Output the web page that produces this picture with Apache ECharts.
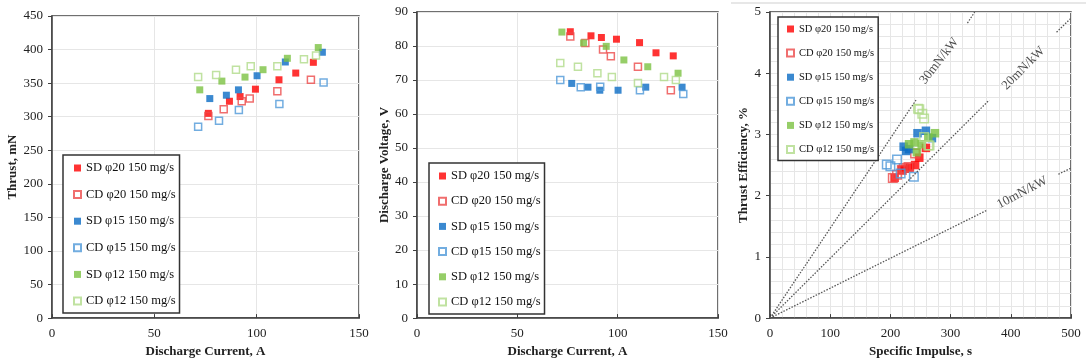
<!DOCTYPE html>
<html>
<head>
<meta charset="utf-8">
<script src="https://cdn.jsdelivr.net/npm/echarts@6/dist/echarts.min.js"></script>
<style>
html, body { margin: 0; padding: 0; background: #fff; }
#chart { width: 1086px; height: 363px; }
</style>
</head>
<body>
<div id="chart"></div>
<script>
// legend names, in legend order
var seriesNames = ['SD φ20 150 mg/s', 'CD φ20 150 mg/s', 'SD φ15 150 mg/s',
	'CD φ15 150 mg/s', 'SD φ12 150 mg/s', 'CD φ12 150 mg/s'];

// discharge current, A
var currentSD20 = [76.4, 86.7, 91.9, 99.4, 110.9, 119.1, 127.7];
var currentCD20 = [76.4, 83.9, 92.7, 96.6, 110.1, 126.5];
var currentSD15 = [77.1, 85.2, 91.1, 100.2, 114.0, 132.1];
var currentCD15 = [71.4, 81.6, 91.3, 111.1, 132.7];
var currentSD12 = [72.2, 83.0, 94.3, 103.1, 115.0, 130.1];
var currentCD12 = [71.4, 80.2, 89.9, 97.1, 110.1, 123.1, 129.0];

// thrust, mN
var thrustSD20 = [305, 323, 330, 341, 355, 365, 381];
var thrustCD20 = [301, 311, 323, 327, 338, 355];
var thrustSD15 = [327, 332, 340, 361, 381.5, 396];
var thrustCD15 = [285, 294, 310, 319, 351];
var thrustSD12 = [340, 353, 359, 370, 387, 403];
var thrustCD12 = [359, 362, 370, 375, 375, 385.5, 391];

// discharge voltage, V
var voltageSD20 = [84.2, 83.0, 82.5, 82.0, 81.0, 78.0, 77.1];
var voltageCD20 = [82.8, 80.9, 79.0, 77.0, 73.9, 67.0];
var voltageSD15 = [69.0, 67.9, 67.0, 67.0, 67.9, 67.9];
var voltageCD15 = [70.0, 67.9, 68.0, 67.0, 65.9];
var voltageSD12 = [84.1, 80.9, 79.9, 75.9, 73.9, 72.0];
var voltageCD12 = [75.0, 73.9, 72.0, 70.9, 69.1, 70.9, 70.0];

// specific impulse, s
var ispSD20 = [207, 219, 224, 232, 241, 248, 259];
var ispCD20 = [204, 211, 219, 222, 230, 241];
var ispSD15 = [222, 226, 231, 245, 259, 269];
var ispCD15 = [194, 200, 211, 217, 239];
var ispSD12 = [231, 240, 244, 252, 263, 274];
var ispCD12 = [246, 248, 253, 256, 256, 263, 265];

// thrust efficiency, %
var effSD20 = [2.29, 2.42, 2.44, 2.46, 2.50, 2.62, 2.78];
var effCD20 = [2.29, 2.34, 2.42, 2.45, 2.47, 2.69];
var effSD15 = [2.80, 2.73, 2.76, 3.02, 3.06, 2.94];
var effCD15 = [2.51, 2.48, 2.59, 2.36, 2.31];
var effSD12 = [2.84, 2.87, 2.71, 2.84, 2.95, 3.02];
var effCD12 = [3.42, 3.41, 3.34, 3.26, 2.96, 2.82, 2.82];

// thrust-to-power reference lines (isp, eff), drawn in two pieces around the label
var line30a = [[0, 0], [242.5, 3.56]];
var line30b = [[328, 4.82], [340, 5.0]];
var line20a = [[0, 0], [364, 3.56]];
var line20b = [[476, 4.67], [500, 4.90]];
var line10a = [[0, 0], [360, 1.76]];
var line10b = [[479, 2.35], [500, 2.45]];
var refLabels = ['30mN/kW', '20mN/kW', '10mN/kW'];
var refLabelPos = [[281, 4.20], [421, 4.08], [419, 2.05]];

var font = 'Liberation Serif, Times New Roman, serif';

var marks = [
	{ fill: '#ff0000', open: false },
	{ fill: '#ec4a4a', open: true },
	{ fill: '#0a6cc4', open: false },
	{ fill: '#4f98d8', open: true },
	{ fill: '#7cc242', open: false },
	{ fill: '#b0db8a', open: true }
];

function zip(xs, ys) {
	var out = [];
	for (var i = 0; i < xs.length; i++) out.push([xs[i], ys[i]]);
	return out;
}

function scatter(idx, axis, xs, ys, size) {
	var m = marks[idx];
	return {
		type: 'scatter',
		name: seriesNames[idx],
		xAxisIndex: axis,
		yAxisIndex: axis,
		symbol: 'rect',
		symbolSize: size,
		data: zip(xs, ys),
		itemStyle: m.open
			? { color: 'rgba(255,255,255,0)', borderColor: m.fill, borderWidth: 1.5 }
			: { color: m.fill }
	};
}

function refLine(data) {
	return {
		type: 'line', xAxisIndex: 2, yAxisIndex: 2, data: data,
		symbol: 'none', silent: true,
		lineStyle: { color: '#555', width: 1.3, type: [1.5, 1.5] }
	};
}

function valueAxis(gridIdx, min, max, interval, name, gap, isX) {
	return {
		type: 'value', gridIndex: gridIdx, min: min, max: max, interval: interval,
		name: name, nameLocation: 'middle', nameGap: gap,
		nameTextStyle: { fontFamily: font, fontWeight: 'bold', fontSize: 13, color: '#222' },
		axisLine: { show: true, lineStyle: { color: '#404040', width: 1.5 } },
		axisTick: { show: true, inside: isX, length: 4, lineStyle: { color: '#404040' } },
		axisLabel: { fontFamily: font, fontSize: 13, color: '#222', margin: 9 },
		splitLine: { show: true, lineStyle: { color: '#e6e6e6', width: 1 } }
	};
}

function legend(left, top, pad, gap, size, lh) {
	return {
		orient: 'vertical', left: left, top: top, padding: pad,
		itemWidth: 7, itemHeight: 7, itemGap: gap,
		borderColor: '#333', borderWidth: 1.5, backgroundColor: '#fff',
		textStyle: { fontFamily: font, fontSize: size, color: '#111', lineHeight: lh },
		data: seriesNames.map(function (n) { return { name: n, icon: 'rect' }; }),
		selectedMode: false
	};
}

var chart = echarts.init(document.getElementById('chart'));

var xAxes = [
	valueAxis(0, 0, 150, 50, 'Discharge Current, A', 20, true),
	valueAxis(1, 0, 150, 50, 'Discharge Current, A', 20, true),
	valueAxis(2, 0, 500, 100, 'Specific Impulse, s', 20, true)
];
var yAxes = [
	valueAxis(0, 0, 450, 50, 'Thrust, mN', 31, false),
	valueAxis(1, 0, 90, 10, 'Discharge Voltage, V', 25, false),
	valueAxis(2, 0, 5, 1, 'Thrust Efficiency, %', 20, false)
];
xAxes[2].minorTick = { show: false, splitNumber: 5 };
xAxes[2].minorSplitLine = { show: true, lineStyle: { color: '#e6e6e6' } };
yAxes[2].minorTick = { show: false, splitNumber: 5 };
yAxes[2].minorSplitLine = { show: true, lineStyle: { color: '#e6e6e6' } };

var series = [
	scatter(0, 0, currentSD20, thrustSD20, 7),
	scatter(1, 0, currentCD20, thrustCD20, 7),
	scatter(2, 0, currentSD15, thrustSD15, 7),
	scatter(3, 0, currentCD15, thrustCD15, 7),
	scatter(4, 0, currentSD12, thrustSD12, 7),
	scatter(5, 0, currentCD12, thrustCD12, 7),

	scatter(0, 1, currentSD20, voltageSD20, 7),
	scatter(1, 1, currentCD20, voltageCD20, 7),
	scatter(2, 1, currentSD15, voltageSD15, 7),
	scatter(3, 1, currentCD15, voltageCD15, 7),
	scatter(4, 1, currentSD12, voltageSD12, 7),
	scatter(5, 1, currentCD12, voltageCD12, 7),

	refLine(line30a), refLine(line30b),
	refLine(line20a), refLine(line20b),
	refLine(line10a), refLine(line10b),
	{
		type: 'scatter', xAxisIndex: 2, yAxisIndex: 2, symbolSize: 0, silent: true,
		data: refLabels.map(function (t, i) {
			return {
				value: refLabelPos[i],
				label: { formatter: t, rotate: [52, 45, 28][i] }
			};
		}),
		label: {
			show: true, position: 'inside', fontFamily: font, fontSize: 13, color: '#222'
		}
	},

	scatter(0, 2, ispSD20, effSD20, 8.5),
	scatter(1, 2, ispCD20, effCD20, 8.5),
	scatter(2, 2, ispSD15, effSD15, 8.5),
	scatter(3, 2, ispCD15, effCD15, 8.5),
	scatter(4, 2, ispSD12, effSD12, 8.5),
	scatter(5, 2, ispCD12, effCD12, 8.5)
];

chart.setOption({
	animation: false,
	backgroundColor: '#fff',
	grid: [
		{ left: 52, top: 16, width: 307, height: 309, show: true, borderColor: '#404040', borderWidth: 1.5 },
		{ left: 417, top: 12, width: 301, height: 313, show: true, borderColor: '#404040', borderWidth: 1.5 },
		{ left: 770, top: 12, width: 301, height: 312, show: true, borderColor: '#404040', borderWidth: 1.5 }
	],
	xAxis: xAxes,
	yAxis: yAxes,
	legend: [
		legend(63, 155, [6, 4, 5, 10], 12.6, 12.5, 14),
		legend(429, 163, [6, 4, 5, 9], 11.2, 12.5, 14),
		legend(778, 17, [6, 4, 5, 8], 12.1, 10.5, 12)
	],
	graphic: [
		{ type: 'line', shape: { x1: 731, y1: 3, x2: 1086, y2: 3 }, style: { stroke: '#cfcfcf', lineWidth: 1 } }
	],
	series: series
});
</script>
</body>
</html>
